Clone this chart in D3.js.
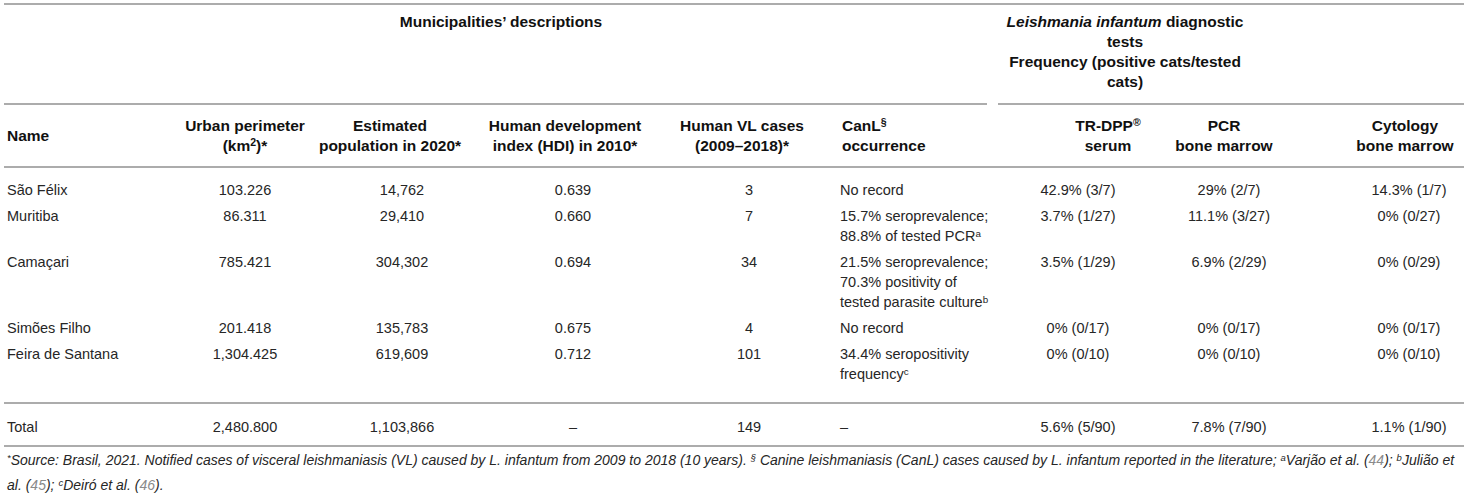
<!DOCTYPE html>
<html>
<head>
<meta charset="utf-8">
<script src="https://cdn.jsdelivr.net/npm/d3@7/dist/d3.min.js"></script>
<style>
  body { margin: 0; background: #fff; }
  svg text { font-family: "Liberation Sans", Arial, Helvetica, sans-serif; }
</style>
</head>
<body>
<svg id="table" width="1468" height="497"></svg>
<script>
// ---- table values ----
// markup: ^x^ superscript, _x_ italic, {x} grey citation
const names = ["São Félix", "Muritiba", "Camaçari", "Simões Filho", "Feira de Santana"];
const urbanPerimeter = [103.226, 86.311, 785.421, 201.418, 1304.425];
const population2020 = [14762, 29410, 304302, 135783, 619609];
const hdi2010 = [0.639, 0.660, 0.694, 0.675, 0.712];
const vlCases = [3, 7, 34, 4, 101];
const canlOccurrence = [
  ["No record"],
  ["15.7% seroprevalence;", "88.8% of tested PCR^a^"],
  ["21.5% seroprevalence;", "70.3% positivity of", "tested parasite culture^b^"],
  ["No record"],
  ["34.4% seropositivity", "frequency^c^"]
];
const trdppPct = [42.9, 3.7, 3.5, 0, 0];
const pcrPct = [29, 11.1, 6.9, 0, 0];
const cytoPct = [14.3, 0, 0, 0, 0];
const positivesTrdpp = [3, 1, 1, 0, 0];
const positivesPcr = [2, 3, 2, 0, 0];
const positivesCyto = [1, 0, 0, 0, 0];
const testedCats = [7, 27, 29, 17, 10];

const totals = {
  urban: 2480.800, pop: 1103866, vl: 149,
  trdpp: [5.6, 5, 90], pcr: [7.8, 7, 90], cyto: [1.1, 1, 90]
};

const groupHeaders = [
  { col: "muni", lines: ["Municipalities’ descriptions"] },
  { col: "leish", lines: ["_Leishmania infantum_ diagnostic", "tests", "Frequency (positive cats/tested", "cats)"] }
];
const columnHeaders = [
  ["Name"],
  ["Urban perimeter", "(km^2^)*"],
  ["Estimated", "population in 2020*"],
  ["Human development", "index (HDI) in 2010*"],
  ["Human VL cases", "(2009–2018)*"],
  ["CanL^§^", "occurrence"],
  ["TR-DPP^®^", "serum"],
  ["PCR", "bone marrow"],
  ["Cytology", "bone marrow"]
];
const footnotes = [
  "^*^Source: Brasil, 2021. Notified cases of visceral leishmaniasis (VL) caused by L. infantum from 2009 to 2018 (10 years). ^§^ Canine leishmaniasis (CanL) cases caused by L. infantum reported in the literature; ^a^Varjão et al. ({44}); ^b^Julião et",
  "al. ({45}); ^c^Deiró et al. ({46})."
];

// ---- layout ----
const W = 1468;
const colKeys = ["name", "urban", "pop", "hdi", "vl", "canl", "trdpp", "pcr", "cyto"];
const anchors = { name: "start", canl: "start" };
const xData = d3.scaleOrdinal().domain(colKeys).range([7, 245, 402, 573, 749, 840, 1078, 1229, 1409]);
const xHead = d3.scaleOrdinal().domain(colKeys.concat(["muni", "leish"]))
  .range([7, 245, 390, 565, 742, 842, 1108, 1224, 1405, 501, 1125]);

const fontSize = 14.5;
const headSize = 15.5;
const lineH = 20;
const rowPad = 3;
const ruleColor = "#acacac";

const svg = d3.select("#table");

const fmtUrban = d3.format(",.3f");
const fmtPop = d3.format(",");
const fmtHdi = d3.format(".3f");
const pct = (p, k, n) => `${p}% (${k}/${n})`;

const rows = names.map((n, i) => ({
  name: [n],
  urban: [fmtUrban(urbanPerimeter[i])],
  pop: [fmtPop(population2020[i])],
  hdi: [fmtHdi(hdi2010[i])],
  vl: [String(vlCases[i])],
  canl: canlOccurrence[i],
  trdpp: [pct(trdppPct[i], positivesTrdpp[i], testedCats[i])],
  pcr: [pct(pcrPct[i], positivesPcr[i], testedCats[i])],
  cyto: [pct(cytoPct[i], positivesCyto[i], testedCats[i])]
}));
const totalRow = {
  name: ["Total"],
  urban: [fmtUrban(totals.urban)],
  pop: [fmtPop(totals.pop)],
  hdi: ["–"],
  vl: [String(totals.vl)],
  canl: ["–"],
  trdpp: [pct(...totals.trdpp)],
  pcr: [pct(...totals.pcr)],
  cyto: [pct(...totals.cyto)]
};

// rich text: superscripts, italics and grey citation numbers
function rich(textSel, str) {
  const parts = str.split(/(\^[^^]*\^|_[^_]*_|\{[^}]*\})/).filter(s => s.length);
  let shifted = false;
  parts.forEach(p => {
    const t = textSel.append("tspan");
    if (p[0] === "^") {
      t.text(p.slice(1, -1)).attr("font-size", "0.68em").attr("dy", "-0.45em");
      shifted = true;
      return;
    }
    if (shifted) { t.attr("dy", "0.306em"); shifted = false; }
    if (p[0] === "_") t.text(p.slice(1, -1)).attr("font-style", "italic");
    else if (p[0] === "{") t.text(p.slice(1, -1)).attr("fill", "#8a8a8a");
    else t.text(p);
  });
}

function drawCell(g, lines, x, yCenter, anchor, opts) {
  lines.forEach((ln, j) => {
    const t = g.append("text")
      .attr("x", x)
      .attr("y", yCenter + j * lineH)
      .attr("dy", "0.35em")
      .attr("text-anchor", anchor)
      .attr("font-size", opts.size || fontSize)
      .attr("font-weight", opts.bold ? "bold" : "normal")
      .attr("fill", opts.fill || "#262626");
    if (opts.italic) t.attr("font-style", "italic");
    rich(t, ln);
  });
}

function rule(y, x1, x2) {
  svg.append("line")
    .attr("x1", x1).attr("x2", x2).attr("y1", y).attr("y2", y)
    .attr("stroke", ruleColor).attr("stroke-width", 2);
}

// ---- rules ----
const topRule = 4, groupRule = 104, headRule = 167, totalRule = 403, bottomRule = 446;
rule(topRule, 4, W - 4);
rule(groupRule, 4, 987);
rule(groupRule, 998, W - 4);
rule(headRule, 4, W - 4);
rule(totalRule, 4, W - 4);
rule(bottomRule, 4, W - 4);

// ---- group headers ----
const gHead = svg.append("g");
groupHeaders.forEach(h => {
  drawCell(gHead, h.lines, xHead(h.col), 22, "middle", { bold: true, size: headSize, fill: "#111" });
});

// ---- column headers ----
const headMid = (groupRule + headRule) / 2;
columnHeaders.forEach((lines, i) => {
  const k = colKeys[i];
  const y0 = headMid - (lines.length - 1) * lineH / 2;
  drawCell(gHead, lines, xHead(k), y0, anchors[k] || "middle", { bold: true, size: headSize, fill: "#111" });
});

// ---- body rows ----
const gBody = svg.append("g");
let y = headRule + 10;
rows.forEach(r => {
  const n = d3.max(colKeys, k => r[k].length);
  const yc = y + rowPad + lineH / 2;
  colKeys.forEach(k => drawCell(gBody, r[k], xData(k), yc, anchors[k] || "middle", {}));
  y += n * lineH + 2 * rowPad;
});

// ---- total row ----
const totalY = (totalRule + bottomRule) / 2 + 2;
colKeys.forEach(k => drawCell(gBody, totalRow[k], xData(k), totalY, anchors[k] || "middle", {}));

// ---- footnotes ----
const gFoot = svg.append("g");
footnotes.forEach((f, i) => {
  drawCell(gFoot, [f], 7, 465 + i * 20, "start", { size: 14, italic: true, fill: "#262626" });
});
</script>
</body>
</html>
